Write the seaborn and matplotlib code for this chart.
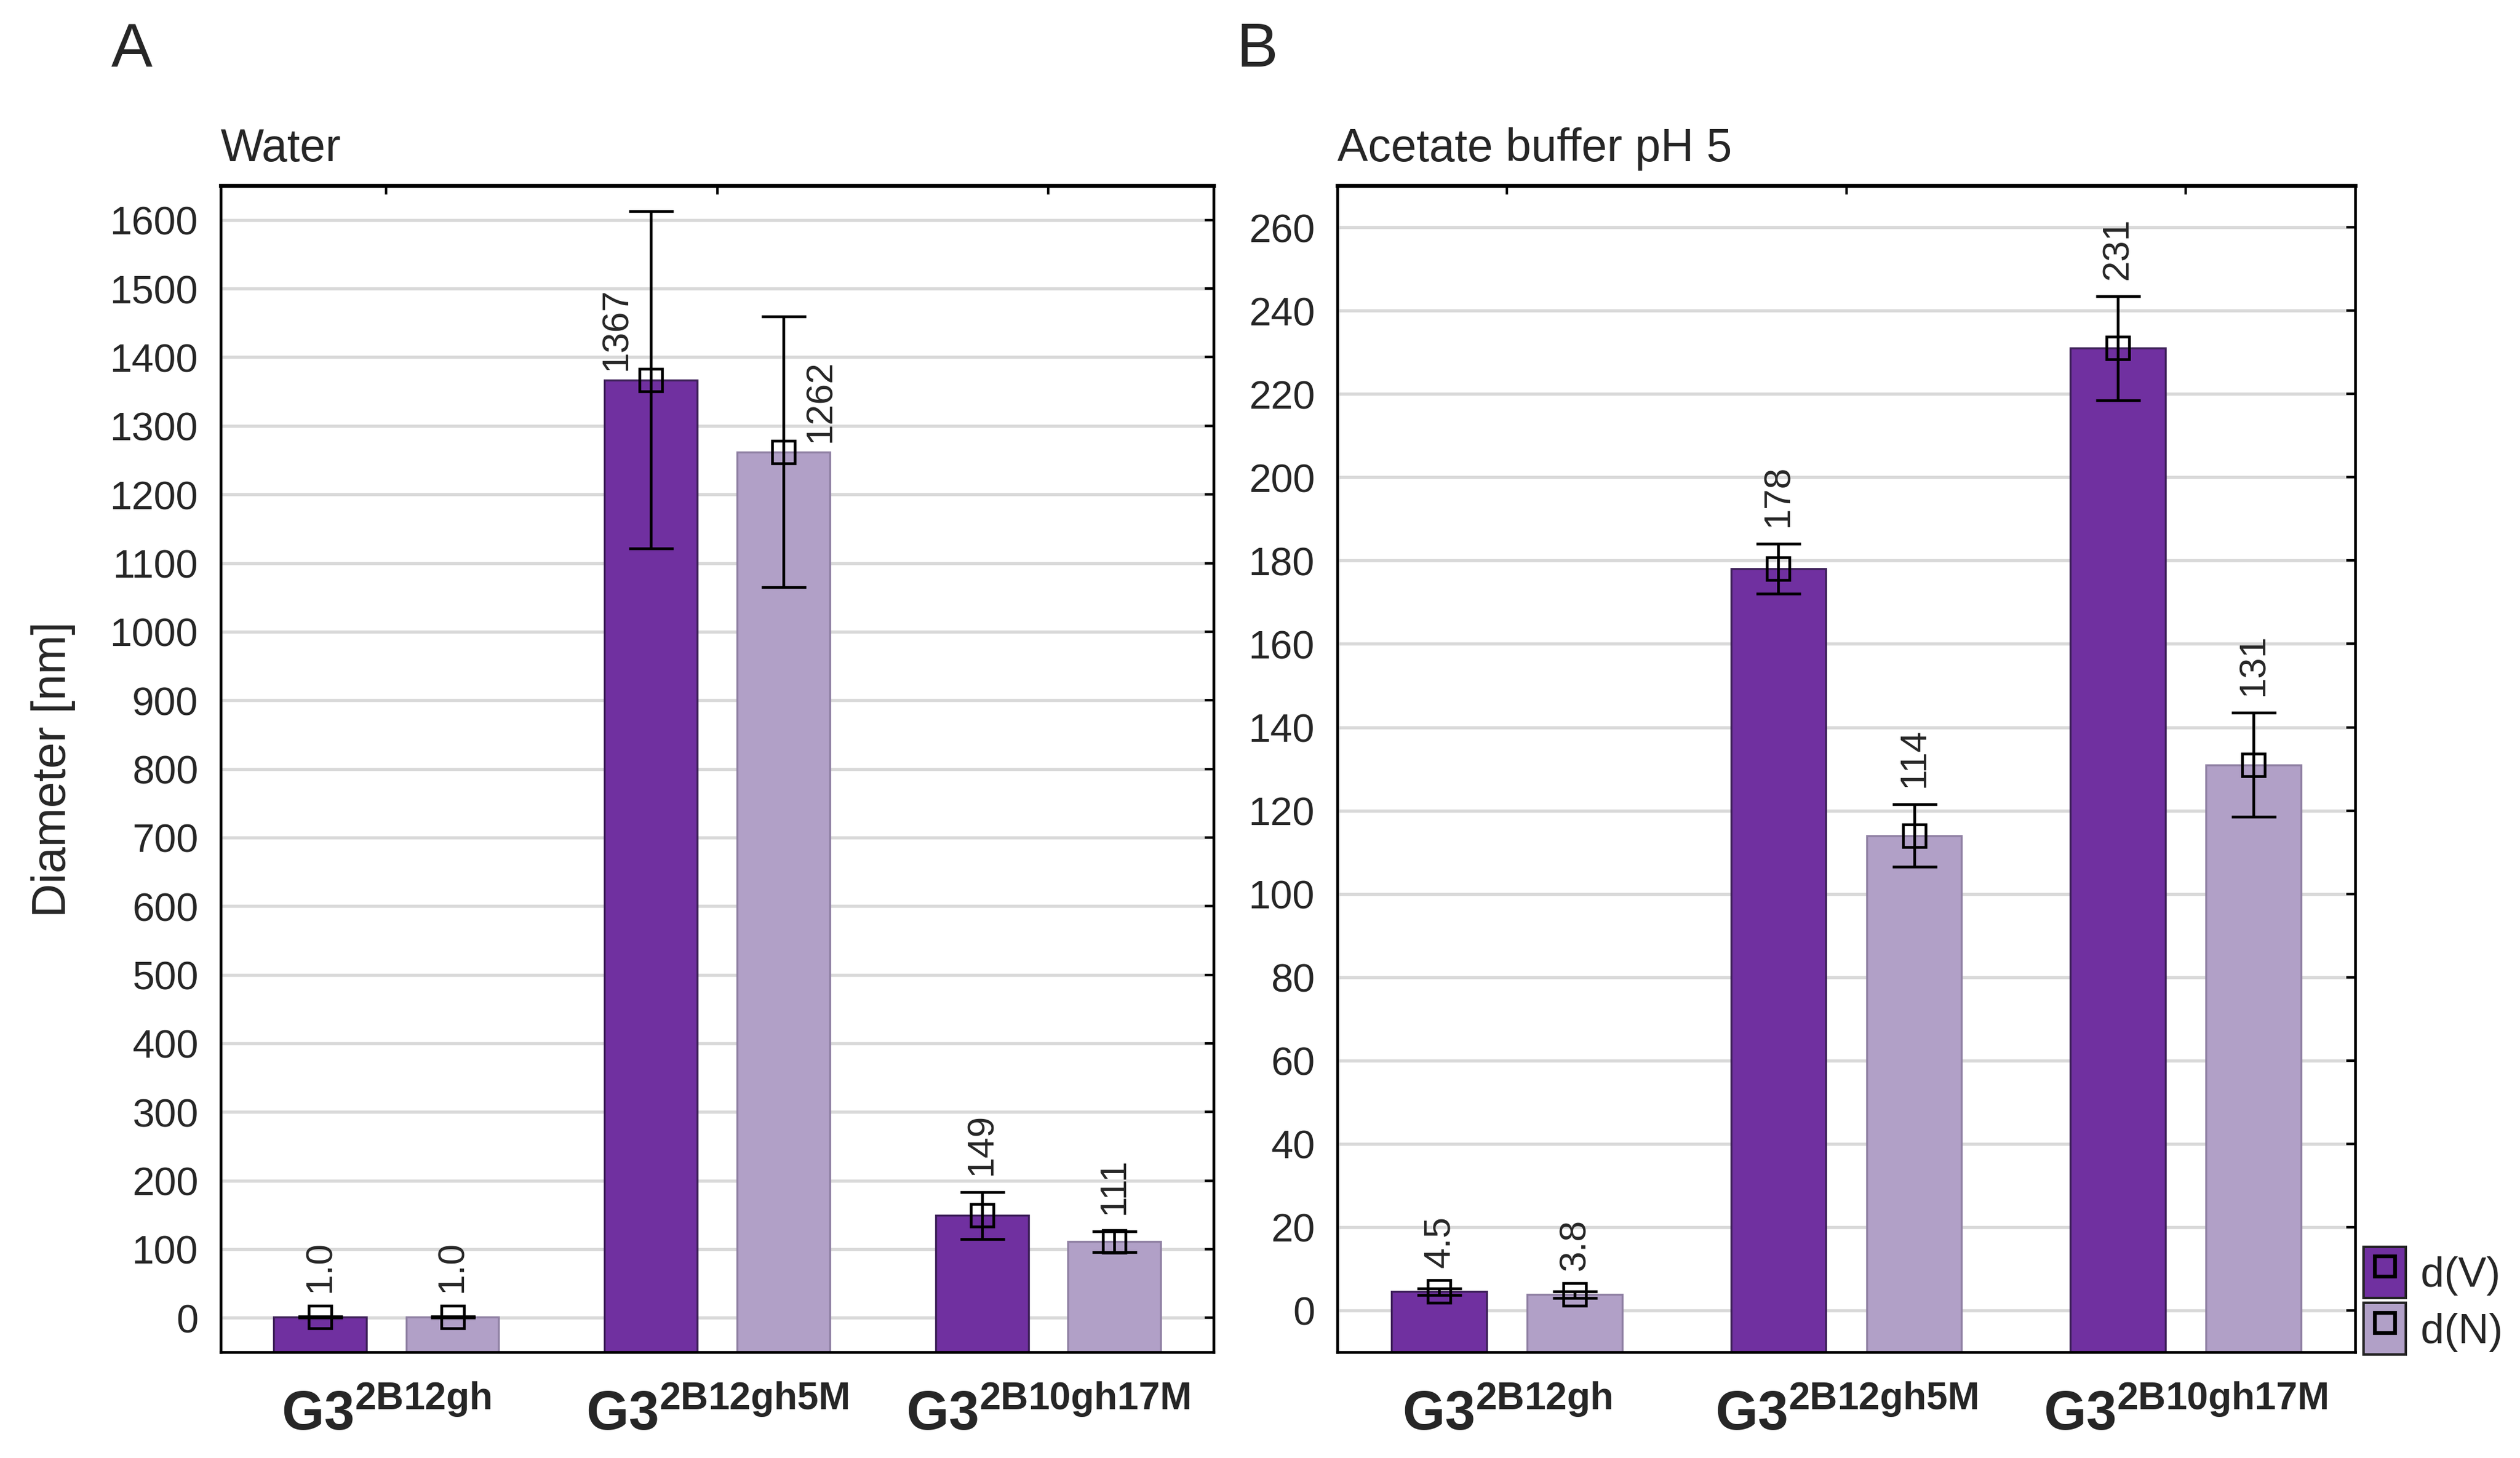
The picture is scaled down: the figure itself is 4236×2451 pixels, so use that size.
import pandas as pd
import seaborn as sns
import matplotlib.pyplot as plt
from matplotlib.patches import Patch
from matplotlib.lines import Line2D

sns.set_style("white")
plt.rcParams['font.family'] = ['Liberation Sans', 'DejaVu Sans']
plt.rcParams['mathtext.fontset'] = 'custom'
plt.rcParams['mathtext.rm'] = 'Liberation Sans'
plt.rcParams['mathtext.bf'] = 'Liberation Sans:bold'

# %%
samples = [r"$\mathbf{G3^{2B12gh}}$", r"$\mathbf{G3^{2B12gh5M}}$", r"$\mathbf{G3^{2B10gh17M}}$"]
measures = ["d(V)", "d(N)"]
colors = {"d(V)": "#7030A0", "d(N)": "#B1A0C7"}
edges = {"d(V)": "#3c1f58", "d(N)": "#8f80a3"}

water_dv = [1.0, 1367, 149]
water_dn = [1.0, 1262, 111]
water_dv_err = [1.0, 246, 34]
water_dn_err = [1.0, 197, 15]

acetate_dv = [4.5, 178, 231]
acetate_dn = [3.8, 114, 131]
acetate_dv_err = [0.8, 6, 12.5]
acetate_dn_err = [0.8, 7.5, 12.5]

AX_H_PT = 0.7997 * 8.1733 * 72  # axes height in points


def fmt(v):
    return f"{v:.1f}" if v < 10 else f"{v:.0f}"


def panel(ax, title, dv, dn, dv_err, dn_err, ylim, yticks):
    df = pd.DataFrame({
        "sample": samples * 2,
        "measure": ["d(V)"] * 3 + ["d(N)"] * 3,
        "diameter": dv + dn,
    })
    sns.barplot(data=df, x="sample", y="diameter", hue="measure",
                hue_order=measures, palette=colors, saturation=1,
                width=0.8, gap=0.3, errorbar=None, legend=False,
                linewidth=0, zorder=2, ax=ax)
    ax.set_ylim(ylim)
    ax.set_xlim(-0.5, 2.5)
    span = ylim[1] - ylim[0]
    for i, (container, vals, errs) in enumerate(zip(ax.containers, [dv, dn], [dv_err, dn_err])):
        for bar, v, e in zip(container, vals, errs):
            # bars start at the bottom of the axis, as in the original
            bar.set_y(ylim[0])
            bar.set_height(v - ylim[0])
            bar.set_edgecolor(edges[measures[i]])
            bar.set_linewidth(0.8)
            xc = bar.get_x() + bar.get_width() / 2
            ax.errorbar(xc, v, yerr=e, fmt='s', mfc='none', mec='black', mew=1.1,
                        ms=9, ecolor='black', elinewidth=1.1, capsize=9,
                        capthick=1.5, zorder=4)
            if e / span > 0.1:
                dx = -14 if i == 0 else 15
                ax.annotate(fmt(v), (xc, v), xytext=(dx, 4), textcoords='offset points',
                            rotation=90, ha='center', va='bottom', fontsize=15, zorder=5)
            else:
                off = max(e * AX_H_PT / span + 7, 10)
                ax.annotate(fmt(v), (xc, v), xytext=(0, off), textcoords='offset points',
                            rotation=90, ha='center', va='bottom', fontsize=15, zorder=5)
    ax.set_yticks(yticks)
    ax.yaxis.grid(True, color='#d9d9d9', linewidth=1.3)
    ax.set_axisbelow(True)
    ax.tick_params(axis='both', direction='in', top=True, right=True,
                   length=3.5, width=1, color='black')
    ax.tick_params(axis='y', labelsize=16, pad=9)
    ax.tick_params(axis='x', labelsize=22, pad=15)
    for s in ax.spines.values():
        s.set_visible(True)
        s.set_color('black')
        s.set_linewidth(1.1)
    ax.spines['top'].set_linewidth(1.6)
    ax.set_xlabel('')
    ax.set_ylabel('')
    ax.set_title(title, loc='left', fontsize=18.5, pad=10)


# %%
fig = plt.figure(figsize=(14.12, 8.1733), dpi=300)
ax1 = fig.add_axes([0.0876, 0.0726, 0.394, 0.7997])
ax2 = fig.add_axes([0.5307, 0.0726, 0.4039, 0.7997])

panel(ax1, "Water", water_dv, water_dn, water_dv_err, water_dn_err,
      (-50, 1650), range(0, 1601, 100))
panel(ax2, "Acetate buffer pH 5", acetate_dv, acetate_dn, acetate_dv_err, acetate_dn_err,
      (-10, 270), range(0, 261, 20))

ax1.set_ylabel("Diameter [nm]", fontsize=19, labelpad=14)

fig.text(0.0441, 0.9543, "A", fontsize=25, va='baseline')
fig.text(0.4906, 0.9543, "B", fontsize=25, va='baseline')

handles = [(Patch(facecolor=colors[m], edgecolor='#222222', linewidth=1.0),
            Line2D([], [], marker='s', ls='none', mfc='none', mec='black', mew=1.5, ms=8))
           for m in measures]
fig.legend(handles, measures, loc='lower left', bbox_to_anchor=(0.938, 0.071),
           frameon=False, fontsize=17, handlelength=1.0, handleheight=1.5,
           labelspacing=0.12, handletextpad=0.35, borderpad=0.0, borderaxespad=0.0)

fig.savefig("out.png", dpi=300)
